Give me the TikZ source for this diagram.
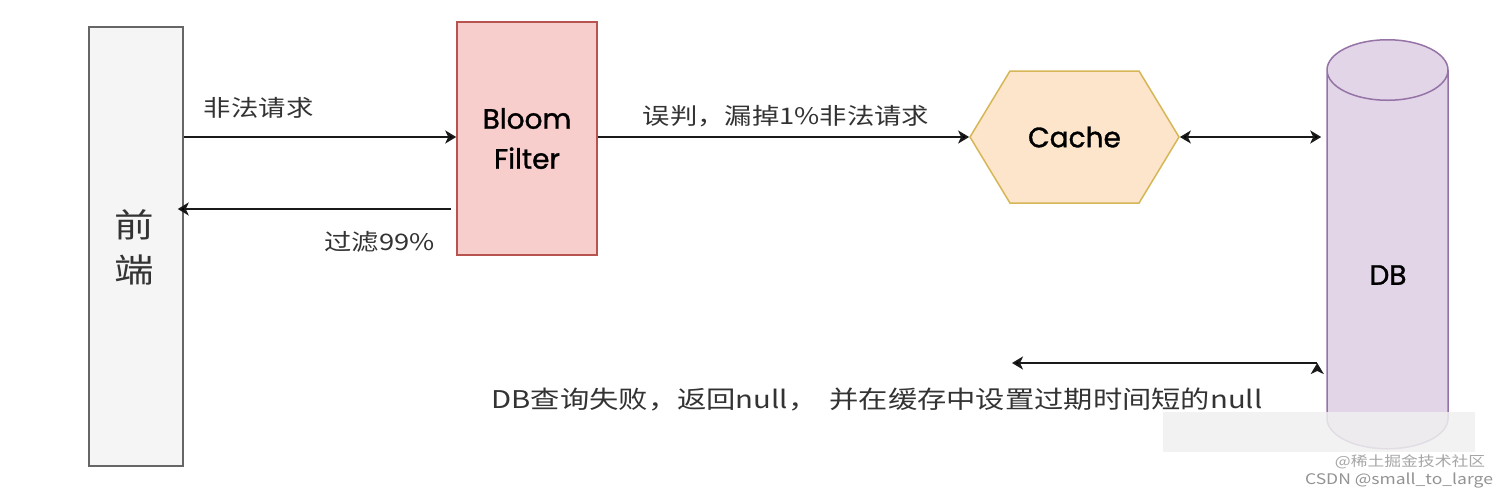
\documentclass[tikz,border=0pt]{standalone}
\usepackage{fontspec}
\newfontfamily\cjk[FakeStretch=1.2]{Noto Sans CJK SC}
\newfontfamily\comic[FakeBold=1.2]{Poppins}
\usetikzlibrary{arrows.meta,shapes.geometric,shapes.symbols}
\definecolor{frontfill}{HTML}{F5F5F5}
\definecolor{frontdraw}{HTML}{666666}
\definecolor{bloomfill}{HTML}{F8CECC}
\definecolor{bloomdraw}{HTML}{B85450}
\definecolor{cachefill}{HTML}{FDE5CB}
\definecolor{cachedraw}{HTML}{D6B656}
\definecolor{dbfill}{HTML}{E1D5E7}
\definecolor{dbdraw}{HTML}{9673A6}
\definecolor{textgray}{HTML}{333333}
\definecolor{linegray}{HTML}{1A1A1A}

\begin{document}
\begin{tikzpicture}[x=0.5pt,y=-0.5pt,thick,
    box/.style={rectangle,draw,line width=0.75pt},
    comic node/.style={font=\comic\fontsize{14}{20}\selectfont,align=center,text=black},
    label node/.style={font=\cjk\fontsize{11.4}{14}\selectfont,text=textgray},
    arr/.style={-{Stealth[length=5.5pt,width=6.5pt,inset=1.5pt]},line width=0.9pt,draw=linegray}]
  \useasboundingbox[fill=white] (0,0) rectangle (1512,494);

  \node[box,draw=frontdraw,fill=frontfill,minimum width=47pt,minimum height=219.5pt] at (136,246.5) (front) {};
  \node[font=\cjk\fontsize{16.5}{22.5}\selectfont,align=center,text=textgray] at (134,247.5) (fronttext) {前\\端};
  \node[box,draw=bloomdraw,fill=bloomfill,minimum width=70pt,minimum height=116.5pt,comic node] at (527,138.5) (bloom) {Bloom\\Filter};
  \node[signal,signal to=west and east,signal pointer angle=117.6,draw=cachedraw,fill=cachefill,line width=0.75pt,
        minimum width=104.5pt,minimum height=66pt,inner sep=0pt,comic node] at (1074.5,137) (cache) {Cache};
  \node[cylinder,shape border rotate=90,shape aspect=0.5,inner sep=30.25pt,draw=dbdraw,fill=dbfill,line width=0.75pt,
        minimum width=60.5pt,minimum height=204.5pt,anchor=north] at (1387.5,39) (db) {};
  \node[comic node] at (1388,275) (dbtext) {DB};

  \coordinate (back) at (0,209);
  \coordinate (ret) at (1012,363);

  \path[arr,every node/.style={label node}]
    (front.east |- cache.west) edge node[pos=0.275,yshift=14.75pt] {非法请求} (bloom.west |- cache.west)
    ([xshift=-2.5pt]bloom.west |- back) edge node[pos=0.262,yshift=-16.5pt] {过滤99\%} ([xshift=-3pt]front.east |- back)
    (bloom.east |- cache.west) edge node[pos=0.507,yshift=10.5pt] {误判，漏掉1\%非法请求} (cache.west)
    (cache.east) edge[{Stealth[length=5.5pt,width=6.5pt,inset=1.5pt]}-{Stealth[length=5.5pt,width=6.5pt,inset=1.5pt]}] ([xshift=-2.5pt]db.west |- cache.east)
    ([xshift=-4.5pt]db.west |- ret) edge (ret)
    ;
  \node[label node,font=\cjk\fontsize{12.2}{15}\selectfont] at (877,400) (fail) {DB查询失败，返回null，\hspace{0.5em}并在缓存中设置过期时间短的null};

  % blurred corner with the watermarks
  \fill[gray!12,opacity=0.85] (1163,412) rectangle (1475,452);
  \node[font=\cjk\fontsize{7}{8}\selectfont,text=gray!70] at (1410,462) (mark) {@稀土掘金技术社区};
  \node[font=\cjk\fontsize{7.3}{8}\selectfont,text=gray!85] at (1399,481) (csdn) {CSDN @small\_to\_large};
\end{tikzpicture}
\end{document}
